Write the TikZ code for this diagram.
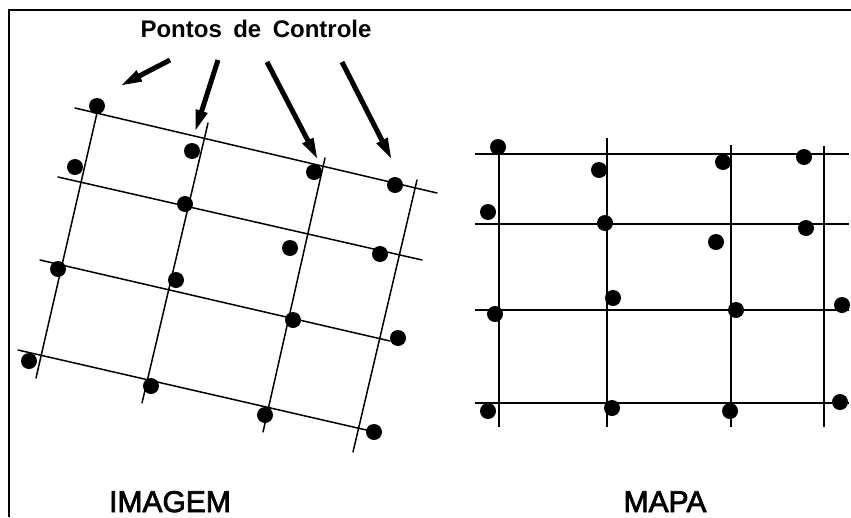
\documentclass[tikz,border=0pt]{standalone}
\usepackage{fontspec}
\setmainfont{Liberation Sans}
\newfontfamily\capfont{Liberation Sans}[FakeBold=2.5]
\usetikzlibrary{arrows.meta}

\begin{document}
\begin{tikzpicture}[x=1pt,y=-1pt,
  dot/.style={circle,fill=black,inner sep=0pt,minimum size=16pt},
  tiltline/.style={line width=1.5pt,line cap=round},
  gridline/.style={line width=2pt},
  pointer/.style={line width=5pt,-{Triangle[length=22pt,width=11pt]}},
  caption/.style={font=\capfont\fontsize{30}{30}\selectfont,inner sep=0pt,anchor=base}]
\useasboundingbox (0,0) rectangle (851,517);

% frame (top and left edges)
\draw[line width=2pt] (9,517) -- (9,9.5) -- (851,9.5);

% ---------- rotated image grid ----------
\coordinate (h1a) at (75,108);  \coordinate (h1b) at (437,193);
\coordinate (h2a) at (58,177);  \coordinate (h2b) at (422,260);
\coordinate (h3a) at (40,260);  \coordinate (h3b) at (390,341);
\coordinate (h4a) at (18,350);  \coordinate (h4b) at (375,432);
\coordinate (v1a) at (97,113);  \coordinate (v1b) at (36,378);
\coordinate (v2a) at (208,123); \coordinate (v2b) at (142,403);
\coordinate (v3a) at (325,158); \coordinate (v3b) at (263,432);
\coordinate (v4a) at (417,180); \coordinate (v4b) at (353,452);
\foreach \l in {h1,h2,h3,h4,v1,v2,v3,v4}
  \draw[tiltline] (\l a) -- (\l b);

\foreach \n/\p in {1/{97,106},2/{192,151},3/{75,167},4/{314,172},
                   5/{395,185},6/{185,204},7/{290,248},8/{380,254},
                   9/{58,269},10/{176,280},11/{293,320},12/{398,338},
                   13/{29,361},14/{151,386},15/{265,415},16/{374,432}}
  \node[dot] (i\n) at (\p) {};

% ---------- map grid ----------
\coordinate (mh1a) at (475,154); \coordinate (mh1b) at (849,154);
\coordinate (mh2a) at (475,224); \coordinate (mh2b) at (849,224);
\coordinate (mh3a) at (475,310); \coordinate (mh3b) at (849,310);
\coordinate (mh4a) at (475,403); \coordinate (mh4b) at (849,403);
\coordinate (mv1a) at (499,141); \coordinate (mv1b) at (499,427);
\coordinate (mv2a) at (607,138); \coordinate (mv2b) at (607,427);
\coordinate (mv3a) at (731,145); \coordinate (mv3b) at (731,427);
\coordinate (mv4a) at (824,146); \coordinate (mv4b) at (824,427);
\foreach \l in {mh1,mh2,mh3,mh4,mv1,mv2,mv3,mv4}
  \draw[gridline] (\l a) -- (\l b);

\foreach \n/\p in {1/{498,147},2/{599,170},3/{723,162},4/{804,157},
                   5/{488,212},6/{605,223},7/{716,242},8/{806,228},
                   9/{613,298},10/{495,314},11/{736,310},12/{842,305},
                   13/{488,411},14/{612,408},15/{730,411},16/{840,402}}
  \node[dot] (m\n) at (\p) {};

% ---------- title and pointers ----------
\node[font=\bfseries\fontsize{24}{24}\selectfont,inner sep=0pt,anchor=base]
  (title) at (256,37) {Pontos\hspace{0.2em} de\hspace{0.2em} Controle};

\coordinate (p1s) at (170,60);  \coordinate (p1e) at (120,86);
\coordinate (p2s) at (218,60);  \coordinate (p2e) at (195,132);
\coordinate (p3s) at (267,62);  \coordinate (p3e) at (318,160);
\coordinate (p4s) at (342,62);  \coordinate (p4e) at (392,160);
\foreach \k in {1,2,3,4}
  \draw[pointer] (p\k s) -- (p\k e);

% ---------- captions ----------
\node[caption] (imagem) at (170,512) {IMAGEM};
\node[caption] (mapa) at (665,512) {MAPA};
\end{tikzpicture}
\end{document}
